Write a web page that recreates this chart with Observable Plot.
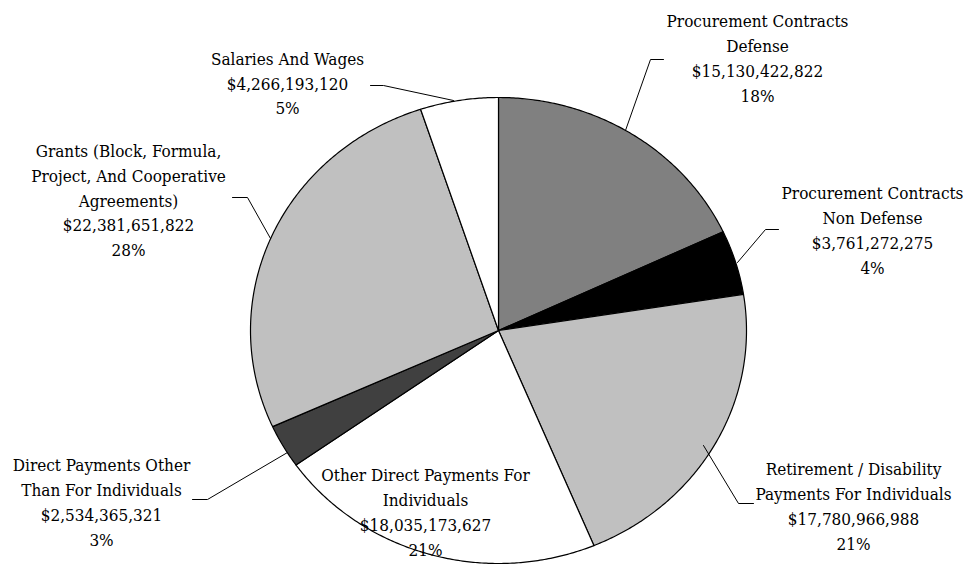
<!DOCTYPE html>
<html>
<head>
<meta charset="utf-8">
<script src="https://cdn.jsdelivr.net/npm/d3@7"></script>
<script src="https://cdn.jsdelivr.net/npm/@observablehq/plot@0.6"></script>
<style>
  html, body { margin: 0; padding: 0; background: #fff; }
  #chart { width: 966px; height: 565px; overflow: hidden; }
  #chart svg, #chart svg text, #chart svg tspan {
    font-family: "DejaVu Serif Condensed", "DejaVu Serif", serif !important;
  }
</style>
</head>
<body>
<div id="chart"></div>
<script>
// ---- data ----
const categories = [
  "Procurement Contracts Defense",
  "Procurement Contracts Non Defense",
  "Retirement / Disability Payments For Individuals",
  "Other Direct Payments For Individuals",
  "Direct Payments Other Than For Individuals",
  "Grants (Block, Formula, Project, And Cooperative Agreements)",
  "Salaries And Wages"
];
const labelLines = [
  ["Procurement Contracts", "Defense"],
  ["Procurement Contracts", "Non Defense"],
  ["Retirement / Disability", "Payments For Individuals"],
  ["Other Direct Payments For", "Individuals"],
  ["Direct Payments Other", "Than For Individuals"],
  ["Grants (Block, Formula,", "Project, And Cooperative", "Agreements)"],
  ["Salaries And Wages"]
];
const amounts = [15130422822, 3761272275, 17780966988, 18035173627, 2534365321, 22381651822, 4266193120];
const percentLabels = ["18%", "4%", "21%", "21%", "3%", "28%", "5%"];

// ---- styles / layout (not data) ----
const fills = ["#808080", "#000000", "#c0c0c0", "#ffffff", "#404040", "#c0c0c0", "#ffffff"];
const pie = {cx: 498, cy: 330, rx: 248, ry: 233};
const labelPos = [
  [757, 56], [872, 228], [853, 504], [425, 510], [101, 500], [128, 198], [287, 81]
];
const leaders = [
  [[663, 59], [650, 59], [625, 130]],
  [[778, 229], [765, 229], [737, 262]],
  [[753, 503], [738, 503], [703, 445]],
  null,
  [[192, 499], [207, 499], [287, 452]],
  [[232, 197], [247, 197], [270, 238]],
  [[370, 85], [383, 85], [453, 100]]
];

const fmt = d3.format("$,");

const arcs = d3.pie().sort(null).value(d => d)(amounts);
const slicePts = [];
arcs.forEach((a, i) => {
  const n = Math.max(2, Math.ceil((a.endAngle - a.startAngle) / (Math.PI / 360)));
  slicePts.push({k: i, x: pie.cx, y: pie.cy, fill: fills[i]});
  for (let j = 0; j <= n; j++) {
    const t = a.startAngle + (a.endAngle - a.startAngle) * j / n;
    slicePts.push({k: i, x: pie.cx + pie.rx * Math.sin(t), y: pie.cy - pie.ry * Math.cos(t), fill: fills[i]});
  }
  slicePts.push({k: i, x: pie.cx, y: pie.cy, fill: fills[i]});
});

const labels = categories.map((c, i) => ({
  text: [...labelLines[i], fmt(amounts[i]), percentLabels[i]].join("\n"),
  x: labelPos[i][0], y: labelPos[i][1]
}));

const leaderPts = [];
leaders.forEach((l, i) => { if (l) l.forEach(p => leaderPts.push({k: i, x: p[0], y: p[1]})); });

const chart = Plot.plot({
  width: 966,
  height: 565,
  margin: 0,
  style: {background: "#fff"},
  x: {domain: [0, 966], range: [0, 966], axis: null},
  y: {domain: [0, 565], range: [0, 565], axis: null},
  color: {type: "identity"},
  marks: [
    Plot.line(slicePts, {x: "x", y: "y", z: "k", fill: "fill", stroke: "#000", strokeWidth: 1.2, strokeLinejoin: "round", curve: "linear"}),
    Plot.line(leaderPts, {x: "x", y: "y", z: "k", stroke: "#000", strokeWidth: 1, curve: "linear"}),
    Plot.text(labels, {x: "x", y: "y", text: "text", fontSize: 17, lineHeight: 1.47, fill: "#000", textAnchor: "middle"})
  ]
});
document.getElementById("chart").appendChild(chart);
</script>
</body>
</html>
